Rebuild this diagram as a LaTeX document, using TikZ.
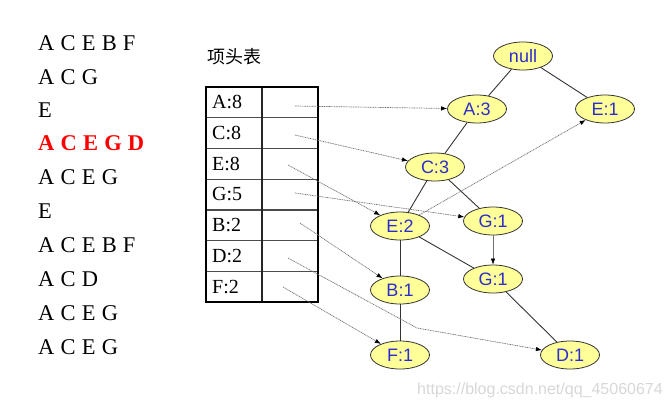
\documentclass[tikz,border=0pt]{standalone}
\usepackage{fontspec}
\setmainfont{Liberation Serif}
\newfontfamily\seqfont[WordSpace=1.1]{Liberation Serif}
\newfontfamily\nodefont{Liberation Sans}
\newfontfamily\cjkfont{Noto Sans CJK SC}
\usetikzlibrary{arrows.meta,shapes.geometric}
\definecolor{nodefill}{RGB}{255,255,153}
\definecolor{nodetext}{RGB}{45,45,205}
\definecolor{linkgray}{RGB}{110,110,110}
\definecolor{markgray}{RGB}{215,215,215}
\tikzset{
	seq/.style={anchor=west, inner sep=0pt, font=\seqfont\fontsize{22.5}{22.5}\selectfont},
	cell/.style={anchor=west, inner sep=0pt, font=\fontsize{20}{20}\selectfont},
	fpnode/.style={ellipse, draw=black!80, line width=0.8pt, fill=nodefill, minimum width=59pt, minimum height=28pt, inner sep=0pt, text=nodetext, font=\nodefont\fontsize{18}{18}\selectfont},
	treeedge/.style={draw=black!80, line width=0.9pt},
	nodelink/.style={draw=linkgray, line width=0.7pt, dash pattern=on 1pt off 0.7pt, -{Latex[black,length=6pt,width=4.5pt]}},
	samelink/.style={draw=linkgray, line width=0.6pt, -{Latex[black,length=6pt,width=4.5pt]}}
}

\begin{document}
\begin{tikzpicture}[x=1pt,y=-1pt]
		%%%%% START %%%%%
		\useasboundingbox (0,0) rectangle (671,408);
		
		% transactions
		\node[seq] (t1) at (38, 43) {A C E B F};
		\node[seq] (t2) at (38, 77) {A C G};
		\node[seq] (t3) at (38, 110) {E};
		\node[seq, text=red, font=\seqfont\bfseries\fontsize{22.5}{22.5}\selectfont] (t4) at (38, 143) {A C E G D};
		\node[seq] (t5) at (38, 177) {A C E G};
		\node[seq] (t6) at (38, 211) {E};
		\node[seq] (t7) at (38, 245) {A C E B F};
		\node[seq] (t8) at (38, 279) {A C D};
		\node[seq] (t9) at (38, 313) {A C E G};
		\node[seq] (t10) at (38, 347) {A C E G};
		
		% header table
		\node[anchor=west, inner sep=0pt, font=\cjkfont\fontsize{18}{18}\selectfont] (title) at (207, 57) {项头表};
		\draw[line width=1.2pt, color=black!70] (206, 117.7) -- (318, 117.7);
		\draw[line width=1.2pt, color=black!70] (206, 148.4) -- (318, 148.4);
		\draw[line width=1.2pt, color=black!70] (206, 179.1) -- (318, 179.1);
		\draw[line width=1.2pt, color=black!70] (206, 209.9) -- (318, 209.9);
		\draw[line width=1.2pt, color=black!70] (206, 240.6) -- (318, 240.6);
		\draw[line width=1.2pt, color=black!70] (206, 271.3) -- (318, 271.3);
		\draw[line width=1.2pt, color=black!85] (262, 87) -- (262, 302);
		\draw[line width=1.8pt] (206, 87) rectangle (318, 302);
		
		\node[cell] (hA) at (212, 102.4) {A:8};
		\node[cell] (hC) at (212, 133.1) {C:8};
		\node[cell] (hE) at (212, 163.8) {E:8};
		\node[cell] (hG) at (212, 194.5) {G:5};
		\node[cell] (hB) at (212, 225.2) {B:2};
		\node[cell] (hD) at (212, 256.0) {D:2};
		\node[cell] (hF) at (212, 286.7) {F:2};
		
		\coordinate (pA) at (295, 106);
		\coordinate (pC) at (295, 135);
		\coordinate (pE) at (288, 165);
		\coordinate (pG) at (295, 193);
		\coordinate (pB) at (300, 223);
		\coordinate (pD) at (288, 258);
		\coordinate (pF) at (283, 287);
		\coordinate (bendD) at (417, 328);
		
		% tree
		\node[fpnode] (root) at (523, 56) {null};
		\node[fpnode] (A3) at (477, 109) {A:3};
		\node[fpnode] (E1) at (605, 109) {E:1};
		\node[fpnode] (C3) at (435, 167) {C:3};
		\node[fpnode] (E2) at (400, 226) {E:2};
		\node[fpnode] (G1a) at (493, 221) {G:1};
		\node[fpnode] (G1b) at (493, 279) {G:1};
		\node[fpnode] (B1) at (400, 290) {B:1};
		\node[fpnode] (F1) at (400, 355) {F:1};
		\node[fpnode] (D1) at (570, 355) {D:1};
		
		\draw[treeedge] (root) -- (A3);
		\draw[treeedge] (root) -- (E1);
		\draw[treeedge] (A3) -- (C3);
		\draw[treeedge] (C3) -- (E2);
		\draw[treeedge] (C3) -- (G1a);
		\draw[treeedge] (E2) -- (B1);
		\draw[treeedge] (B1) -- (F1);
		\draw[treeedge] (E2) -- (G1b);
		\draw[treeedge] (G1b) -- (D1);
		
		% node links
		\draw[nodelink] (pA) -- (A3);
		\draw[nodelink] (pC) -- (C3);
		\draw[nodelink] (pE) -- (E2);
		\draw[nodelink] (pG) -- (G1a);
		\draw[nodelink] (pB) -- (B1);
		\draw[nodelink] (pD) -- (bendD) -- (D1);
		\draw[nodelink] (pF) -- (F1);
		\draw[nodelink] (E2) -- (E1);
		\draw[samelink] (G1a) -- (G1b);
		
		\node[inner sep=0pt, text=markgray, font=\nodefont\fontsize{16}{16}\selectfont] (mark) at (540, 390) {https://blog.csdn.net/qq\_45060674};
		%%%%% END %%%%%
\end{tikzpicture}
\end{document}
